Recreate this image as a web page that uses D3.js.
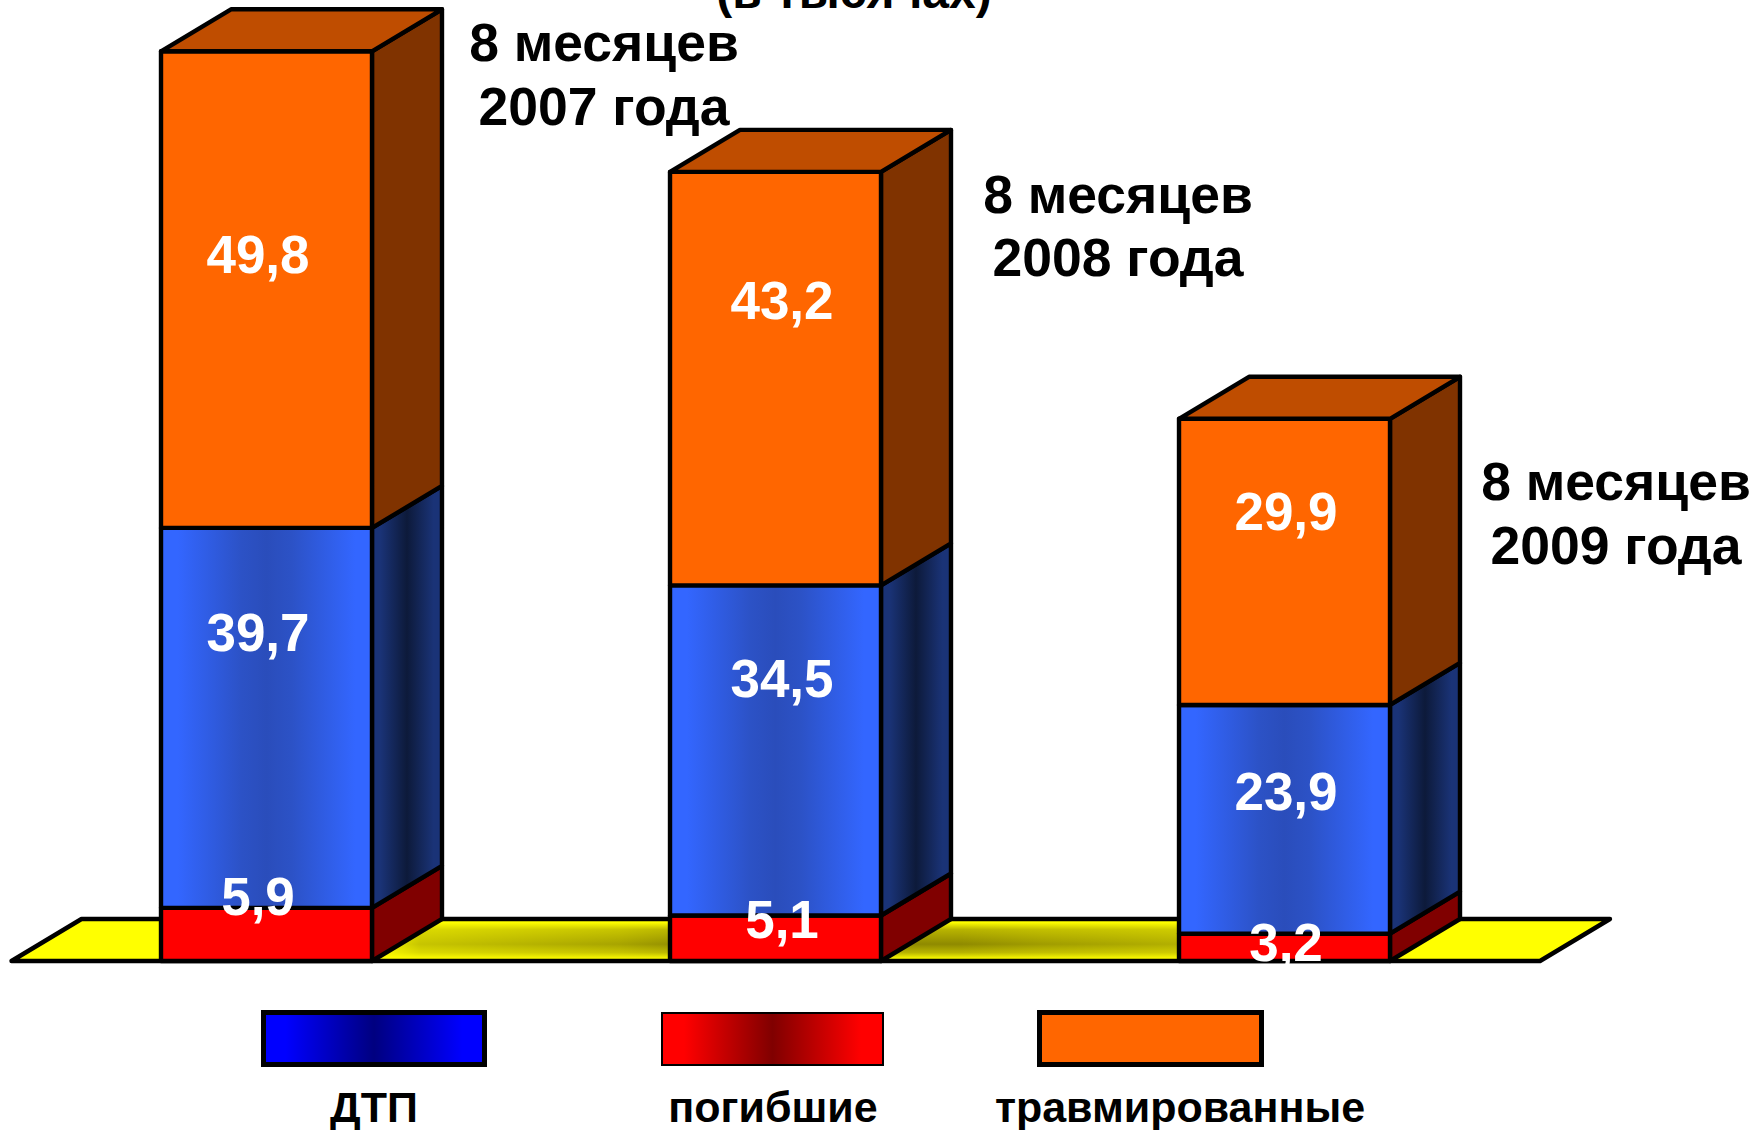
<!DOCTYPE html>
<html><head><meta charset="utf-8">
<script src="https://cdnjs.cloudflare.com/ajax/libs/d3/7.8.5/d3.min.js"></script>
<style>html,body{margin:0;padding:0;background:#fff;overflow:hidden}svg{display:block}text{font-family:"Liberation Sans",Arial,sans-serif;font-weight:700}</style>
</head><body><svg id="c" width="1756" height="1130"></svg>
<script>
const categories = ["8 месяцев 2007 года", "8 месяцев 2008 года", "8 месяцев 2009 года"];
const periodLine1 = ["8 месяцев", "8 месяцев", "8 месяцев"];
const periodLine2 = ["2007 года", "2008 года", "2009 года"];
const deaths = [5.9, 5.1, 3.2];
const accidents = [39.7, 34.5, 23.9];
const injured = [49.8, 43.2, 29.9];
const seriesNames = ["ДТП", "погибшие", "травмированные"];
const titleText = "(в тысячах)";

// layout only
const W = 1756, H = 1130, floorY = 961, dx = 70, dy = 42, sw = 4.4;
const x = d3.scaleBand().domain(categories).range([161, 1390]).paddingInner(0.5855);
const y = d3.scaleLinear().domain([0, 100]).range([964.3, 7.3]);
const svg = d3.select("#c");
const defs = svg.append("defs");
function grad(id, stops, vertical) {
  const g = defs.append("linearGradient").attr("id", id)
    .attr("x1", 0).attr("y1", 0).attr("x2", vertical ? 0 : 1).attr("y2", vertical ? 1 : 0);
  stops.forEach(s => g.append("stop").attr("offset", s[0]).attr("stop-color", s[1]));
}
grad("blueFront", [[0, "#3366ff"], [0.08, "#3366ff"], [0.38, "#2c52c6"], [0.5, "#2a4dbb"], [0.62, "#2c52c6"], [0.92, "#3366ff"], [1, "#3366ff"]]);
grad("blueSide", [[0, "#1a3377"], [0.12, "#1a3377"], [0.5, "#0d1a3a"], [0.88, "#1a3377"], [1, "#1a3377"]]);
grad("floorV", [[0, "#ffff00"], [0.08, "#ffff00"], [0.25, "#b8b400"], [0.6, "#8f8a00"], [0.8, "#b8b400"], [0.95, "#ffff00"], [1, "#ffff00"]], true);
grad("legBlue", [[0, "#0000ff"], [0.1, "#0000ff"], [0.5, "#000080"], [0.9, "#0000ff"], [1, "#0000ff"]]);
grad("legRed", [[0, "#ff0000"], [0.1, "#ff0000"], [0.5, "#800000"], [0.9, "#ff0000"], [1, "#ff0000"]]);
const hg = defs.append("linearGradient").attr("id", "floorFade").attr("gradientUnits", "userSpaceOnUse")
  .attr("x1", 0).attr("x2", W).attr("y1", 0).attr("y2", 0);
[[372, 1], [420, 0.5], [620, 0.22], [690, 0], [960, 0], [1040, 0.15], [1178, 0.32], [1392, 1]].forEach(s =>
  hg.append("stop").attr("offset", s[0] / W).attr("stop-color", "#ffff00").attr("stop-opacity", s[1]));

const line = d3.line();
const poly = pts => line(pts) + "Z";

// floor
const floorPts = [[11.5, floorY], [11.5 + dx, floorY - dy], [1610, floorY - dy], [1540, floorY]];
svg.append("path").attr("d", poly(floorPts)).attr("fill", "url(#floorV)");
svg.append("path").attr("d", poly(floorPts)).attr("fill", "url(#floorFade)");
svg.append("path").attr("d", poly(floorPts)).attr("fill", "none").attr("stroke", "#000").attr("stroke-width", sw).attr("stroke-linejoin", "round");

// stacks
const stack = d3.stack().keys([0, 1, 2]).value((d, k) => d[k]);
const rows = categories.map((c, i) => [deaths[i], accidents[i], injured[i]]);
const layers = stack(rows);
const fills = [
  {front: "#ff0000", side: "#800000", top: "#800000"},
  {front: "url(#blueFront)", side: "url(#blueSide)", top: "#1a3377"},
  {front: "#ff6600", side: "#803300", top: "#bf4d00"}
];
categories.forEach((c, i) => {
  const g = svg.append("g");
  const x0 = x(c), x1 = x0 + x.bandwidth();
  layers.forEach((layer, k) => {
    const yb = k === 0 ? floorY : y(layer[i][0]);
    const yt = y(layer[i][1]);
    const s = fills[k];
    const face = (d, f) => g.append("path").attr("d", poly(d)).attr("fill", f).attr("stroke", "#000").attr("stroke-width", sw).attr("stroke-linejoin", "round");
    face([[x1, yb], [x1 + dx, yb - dy], [x1 + dx, yt - dy], [x1, yt]], s.side);
    face([[x0, yb], [x1, yb], [x1, yt], [x0, yt]], s.front);
    if (k === 2) face([[x0, yt], [x0 + dx, yt - dy], [x1 + dx, yt - dy], [x1, yt]], s.top);
  });
});

// value labels (baseline and centre per label, layout only)
const valueLabelX = [258, 782, 1286];
const valueBaselines = [[915, 651, 273], [938, 697, 319], [961, 810, 530]];
const fmt = v => d3.format(".1f")(v).replace(".", ",");
categories.forEach((c, i) => rows[i].forEach((v, k) => {
  svg.append("text").attr("x", valueLabelX[i]).attr("y", valueBaselines[i][k])
    .attr("text-anchor", "middle").attr("font-size", 53).attr("fill", "#fff").text(fmt(v));
}));

// period labels
const periodX = [604, 1118, 1616];
const periodY = [[61, 125], [213, 276], [500, 564]];
categories.forEach((c, i) => {
  [periodLine1[i], periodLine2[i]].forEach((t, j) => {
    svg.append("text").attr("x", periodX[i]).attr("y", periodY[i][j]).attr("text-anchor", "middle")
      .attr("font-size", 53.5).attr("fill", "#000").text(t);
  });
});

// clipped title
svg.append("text").attr("x", 854).attr("y", 8).attr("text-anchor", "middle").attr("font-size", 48).attr("fill", "#000").text(titleText);

// legend
const legendRects = [
  {x: 263.5, y: 1012.5, w: 221, h: 52, f: "url(#legBlue)", sw: 5},
  {x: 662, y: 1013, w: 221, h: 52, f: "url(#legRed)", sw: 2},
  {x: 1039.5, y: 1012.5, w: 222, h: 52, f: "#ff6600", sw: 5}
];
const legendX = [374, 773, 1180];
seriesNames.forEach((n, i) => {
  const r = legendRects[i];
  svg.append("rect").attr("x", r.x).attr("y", r.y).attr("width", r.w).attr("height", r.h)
    .attr("fill", r.f).attr("stroke", "#000").attr("stroke-width", r.sw);
  svg.append("text").attr("x", legendX[i]).attr("y", 1122).attr("text-anchor", "middle")
    .attr("font-size", 43).attr("fill", "#000").text(n);
});
</script></body></html>
